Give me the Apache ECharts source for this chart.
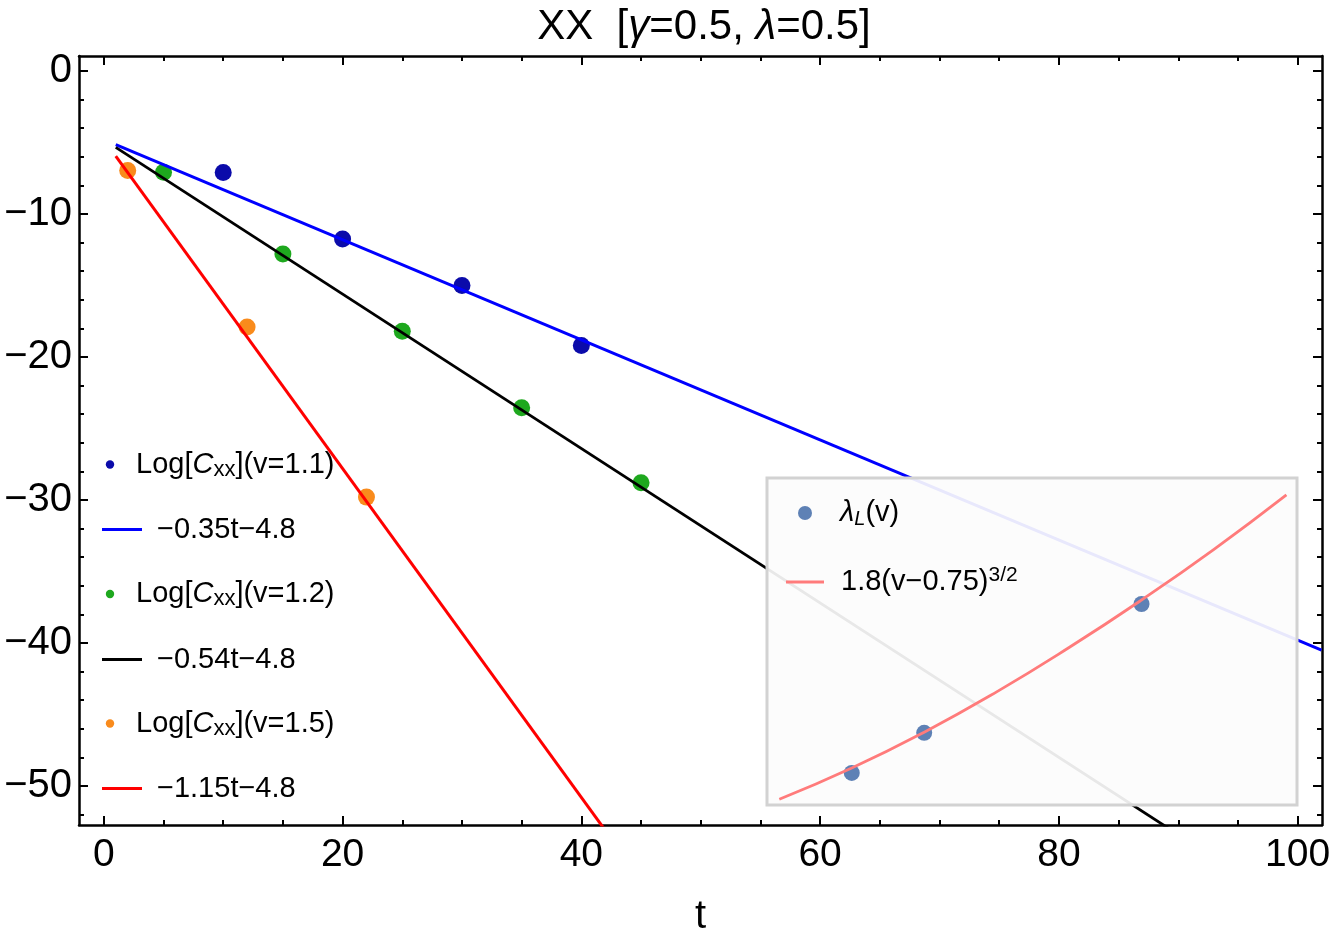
<!DOCTYPE html>
<html>
<head>
<meta charset="utf-8">
<script src="https://cdn.jsdelivr.net/npm/echarts@6/dist/echarts.min.js"></script>
<style>html,body{margin:0;padding:0;background:#fff}#c{width:1334px;height:942px}</style>
</head>
<body>
<div id="c"></div>
<script>
// ---- data ----
const tV11 = [10, 20, 30, 40];
const logCv11 = [-7.1, -11.75, -15.0, -19.2];
const tV12 = [5, 15, 25, 35, 45];
const logCv12 = [-7.08, -12.8, -18.2, -23.55, -28.8];
const tV15 = [2, 12, 22];
const logCv15 = [-6.95, -17.9, -29.8];

// fitted lines (end points of  a*t - 4.8  over the plotted t range)
const fitT = [1, 102];
const fitV11 = [-5.15, -40.5];
const fitV12 = [-5.34, -59.88];
const fitV15 = [-5.95, -122.1];

// inset: Lyapunov exponent vs v and the curve 1.8(v-0.75)^(3/2)
const velocities = [1.1, 1.2, 1.5];
const lyapunov = [0.35, 0.54, 1.15];
const curveV = [1.0, 1.1, 1.2, 1.3, 1.4, 1.5, 1.6, 1.7];
const curveL = [0.225, 0.373, 0.543, 0.734, 0.944, 1.169, 1.409, 1.667];

// tick labels / positions
const xMajor = [0, 20, 40, 60, 80, 100];
const xMinor = [5, 10, 15, 25, 30, 35, 45, 50, 55, 65, 70, 75, 85, 90, 95];
const yMajor = [0, -10, -20, -30, -40, -50];
const yMinor = [-2, -4, -6, -8, -12, -14, -16, -18, -22, -24, -26, -28, -32, -34, -36, -38, -42, -44, -46, -48, -52];

const FONT = "'Liberation Sans', Arial, Helvetica, sans-serif";
const X_MIN = -2.08, X_MAX = 102.04, Y_MIN = -52.73, Y_MAX = 1.05;
const zip = (a, b) => a.map((v, i) => [v, b[i]]);
const minus = v => String(v).replace('-', '\u2212');

function xAx(pos, vals, len, labels, line) {
  return {
    type: 'value', gridIndex: 0, position: pos, min: X_MIN, max: X_MAX,
    axisLine: { show: line, onZero: false, lineStyle: { color: '#000', width: 2.5 } },
    axisTick: { show: true, inside: true, length: len, customValues: vals, lineStyle: { color: '#000', width: 2 } },
    axisLabel: { show: labels, customValues: vals, margin: 11, fontSize: 39, color: '#000', fontFamily: FONT, formatter: minus },
    splitLine: { show: false }
  };
}
function yAx(pos, vals, len, labels, line) {
  return {
    type: 'value', gridIndex: 0, position: pos, min: Y_MIN, max: Y_MAX,
    axisLine: { show: line, onZero: false, lineStyle: { color: '#000', width: 2.5 } },
    axisTick: { show: true, inside: true, length: len, customValues: vals, lineStyle: { color: '#000', width: 2 } },
    axisLabel: { show: labels, customValues: vals, margin: 7, fontSize: 40, color: '#000', fontFamily: FONT, formatter: minus },
    splitLine: { show: false }
  };
}

const xBottom = xAx('bottom', xMajor, 9, true, true);
xBottom.name = 't';
xBottom.nameLocation = 'middle';
xBottom.nameGap = 72;
xBottom.nameTextStyle = { fontSize: 40, color: '#000', fontFamily: FONT };

const legendRich = {
  a: { fontSize: 29, fontFamily: FONT, color: '#000' },
  i: { fontSize: 29, fontFamily: FONT, color: '#000', fontStyle: 'italic' },
  s: { fontSize: 22, fontFamily: FONT, color: '#000', padding: [10, 0, 0, 0] },
  si: { fontSize: 20, fontFamily: FONT, color: '#000', fontStyle: 'italic', padding: [13, 0, 0, 0] },
  sup: { fontSize: 21, fontFamily: FONT, color: '#000', padding: [0, 0, 14, 0] }
};
function legText(x, y, txt, z) {
  return { type: 'text', x: x, y: y, z: z || 20, silent: true,
    style: { text: txt, rich: legendRich, fontSize: 29, fontFamily: FONT, fill: '#000', verticalAlign: 'middle', align: 'left' } };
}
function legDot(cx, cy, r, color, z) {
  return { type: 'circle', z: z || 20, silent: true, shape: { cx: cx, cy: cy, r: r }, style: { fill: color } };
}
function legLine(x1, x2, y, color, z) {
  return { type: 'line', z: z || 20, silent: true, shape: { x1: x1, y1: y, x2: x2, y2: y }, style: { stroke: color, lineWidth: 3 } };
}

const C11 = '#0b0baa', C12 = '#1ea81e', C15 = '#f98b1c';
const L11 = '#0000ff', L12 = '#000000', L15 = '#ff0000';
const CIN = '#5e81b5', LIN = '#ff7b7b';

const option = {
  animation: false,
  backgroundColor: '#fff',
  title: {
    text: '{a|XX  [}{i|\u03b3}{a|=0.5, }{i|\u03bb}{a|=0.5]}',
    left: 699, top: 1, textAlign: 'center',
    textStyle: { fontSize: 42, fontFamily: FONT, color: '#000', fontWeight: 'normal',
      rich: { a: { fontSize: 42, fontFamily: FONT, color: '#000' }, i: { fontSize: 42, fontFamily: FONT, color: '#000', fontStyle: 'italic' } } }
  },
  grid: [
    { left: 79, top: 56, width: 1243, height: 769, show: false },
    { left: 767, top: 478, width: 530, height: 327, show: true, z: 5,
      backgroundColor: 'rgba(252,252,252,0.92)', borderColor: '#d2d2d2', borderWidth: 3 }
  ],
  xAxis: [
    xBottom,
    xAx('top', xMajor, 9, false, true),
    xAx('bottom', xMinor, 5, false, false),
    xAx('top', xMinor, 5, false, false),
    { type: 'value', gridIndex: 1, min: 0.983, max: 1.7146, show: false }
  ],
  yAxis: [
    yAx('left', yMajor, 9, true, true),
    yAx('right', yMajor, 9, false, true),
    yAx('left', yMinor, 5, false, false),
    yAx('right', yMinor, 5, false, false),
    { type: 'value', gridIndex: 1, min: 0.198, max: 1.747, show: false }
  ],
  series: [
    { type: 'scatter', name: 'v=1.1', data: zip(tV11, logCv11), symbolSize: 17, itemStyle: { color: C11, opacity: 1 }, z: 2, silent: true },
    { type: 'scatter', name: 'v=1.2', data: zip(tV12, logCv12), symbolSize: 17, itemStyle: { color: C12, opacity: 1 }, z: 2, silent: true },
    { type: 'scatter', name: 'v=1.5', data: zip(tV15, logCv15), symbolSize: 17, itemStyle: { color: C15, opacity: 1 }, z: 2, silent: true },
    { type: 'line', name: 'fit 1.1', data: zip(fitT, fitV11), symbol: 'none', lineStyle: { color: L11, width: 3 }, z: 3, silent: true },
    { type: 'line', name: 'fit 1.2', data: zip(fitT, fitV12), symbol: 'none', lineStyle: { color: L12, width: 2.8 }, z: 3, silent: true },
    { type: 'line', name: 'fit 1.5', data: zip(fitT, fitV15), symbol: 'none', lineStyle: { color: L15, width: 3 }, z: 3, silent: true },
    { type: 'scatter', name: 'lambda', xAxisIndex: 4, yAxisIndex: 4, data: zip(velocities, lyapunov), symbolSize: 16, itemStyle: { color: CIN, opacity: 1 }, z: 10, silent: true },
    { type: 'line', name: 'curve', xAxisIndex: 4, yAxisIndex: 4, data: zip(curveV, curveL), smooth: true, symbol: 'none', lineStyle: { color: LIN, width: 2.8 }, z: 11, silent: true }
  ],
  graphic: [
    legDot(110, 464.5, 4.2, C11),
    legText(136, 464.5, '{a|Log[}{i|C}{s|xx}{a|](v=1.1)}'),
    legLine(102, 142, 529.5, L11),
    legText(157, 529.5, '{a|\u22120.35t\u22124.8}'),
    legDot(110, 594, 4.2, C12),
    legText(136, 594, '{a|Log[}{i|C}{s|xx}{a|](v=1.2)}'),
    legLine(102, 142, 659.5, L12),
    legText(157, 659.5, '{a|\u22120.54t\u22124.8}'),
    legDot(110, 723.5, 4.2, C15),
    legText(136, 723.5, '{a|Log[}{i|C}{s|xx}{a|](v=1.5)}'),
    legLine(102, 142, 788.5, L15),
    legText(157, 788.5, '{a|\u22121.15t\u22124.8}'),
    legDot(805, 513, 7, CIN, 30),
    legText(840, 513, '{i|\u03bb}{si|L}{a|(v)}', 30),
    legLine(786, 824, 582, LIN, 30),
    legText(841, 582, '{a|1.8(v\u22120.75)}{sup|3/2}', 30)
  ]
};

const chart = echarts.init(document.getElementById('c'), null, { renderer: 'canvas' });
chart.setOption(option);
</script>
</body>
</html>
